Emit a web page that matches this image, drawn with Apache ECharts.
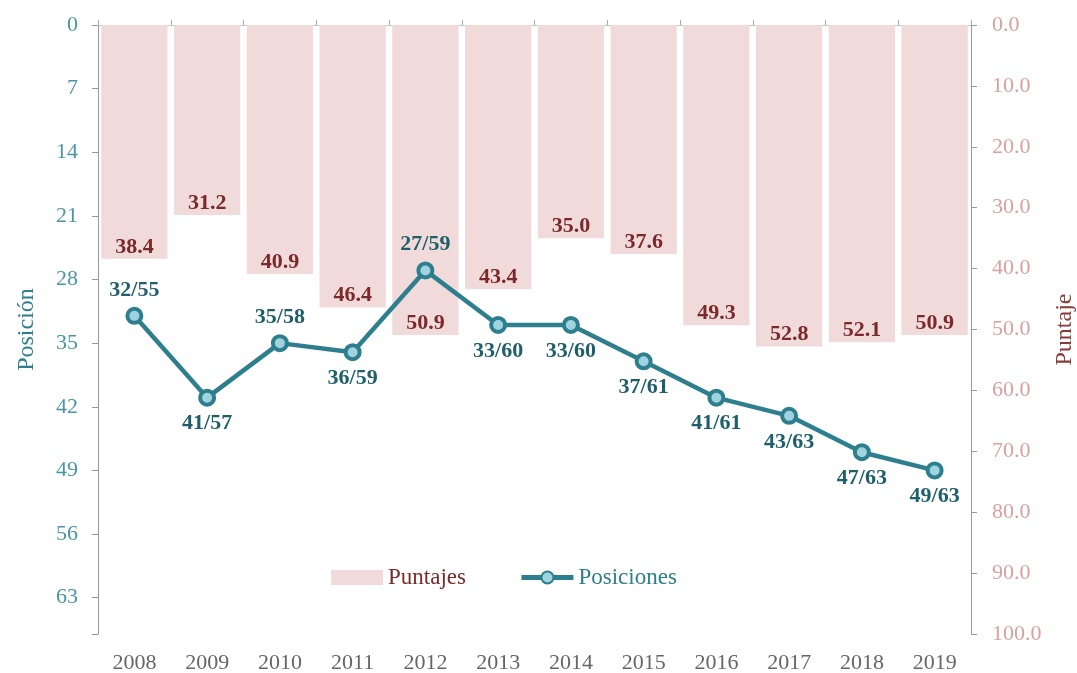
<!DOCTYPE html>
<html>
<head>
<meta charset="utf-8">
<script src="https://cdn.jsdelivr.net/npm/echarts@6/dist/echarts.min.js"></script>
<style>
  html, body { margin: 0; padding: 0; background: #fff; }
  #grafico { width: 1077px; height: 673px; }
</style>
</head>
<body>
<div id="grafico"></div>
<script>
// datos
var anios = ['2008', '2009', '2010', '2011', '2012', '2013', '2014', '2015', '2016', '2017', '2018', '2019'];
var puntajes = [38.4, 31.2, 40.9, 46.4, 50.9, 43.4, 35.0, 37.6, 49.3, 52.8, 52.1, 50.9];
var posiciones = [32, 41, 35, 36, 27, 33, 33, 37, 41, 43, 47, 49];
var totalPaises = [55, 57, 58, 59, 59, 60, 60, 61, 61, 63, 63, 63];
// donde va la etiqueta de cada punto
var posEtiqueta = ['top', 'bottom', 'top', 'bottom', 'top', 'bottom', 'bottom', 'bottom', 'bottom', 'bottom', 'bottom', 'bottom'];

var fuente = '"Liberation Serif", "DejaVu Serif", serif';
var teal = '#2E7F8E';

var myChart = echarts.init(document.getElementById('grafico'));

var datosLinea = posiciones.map(function (p, i) {
    return {
        value: p,
        label: { position: posEtiqueta[i] }
    };
});

var option = {
    animation: false,
    backgroundColor: '#fff',
    textStyle: { fontFamily: fuente },
    grid: { left: 98, right: 106, top: 25, bottom: 39, outerBoundsMode: 'none', containLabel: false },
    legend: {
        top: 561,
        left: 326,
        itemGap: 53,
        textStyle: { fontFamily: fuente, fontSize: 23 },
        data: [
            { name: 'Puntajes', icon: 'rect', textStyle: { color: '#7A2A2A' } },
            { name: 'Posiciones', lineStyle: { width: 5 }, textStyle: { color: teal } }
        ],
        itemWidth: 52,
        itemHeight: 15
    },
    xAxis: [
        {
            type: 'category',
            data: anios,
            position: 'bottom',
            axisLine: { show: false },
            axisTick: { show: false },
            axisLabel: { color: '#666', fontSize: 22, fontFamily: fuente, margin: 18 }
        },
        {
            type: 'category',
            data: anios,
            position: 'top',
            axisLine: { show: true, lineStyle: { color: '#C8C8C8', width: 1 } },
            axisTick: { show: true, length: 5, lineStyle: { color: '#AAA' } },
            axisLabel: { show: false }
        }
    ],
    yAxis: [
        {
            type: 'value',
            inverse: true,
            min: 0,
            max: 67,
            interval: 7,
            position: 'left',
            name: 'Posición',
            nameLocation: 'middle',
            nameGap: 59,
            nameTextStyle: { color: teal, fontSize: 24, fontFamily: fuente },
            axisLine: { show: true, lineStyle: { color: '#999' } },
            axisTick: { show: true, length: 6, lineStyle: { color: '#999' } },
            splitLine: { show: false },
            axisLabel: {
                color: '#4A96A6', fontSize: 22, fontFamily: fuente, margin: 20,
                formatter: function (v) { return v % 7 === 0 ? String(v) : ''; }
            }
        },
        {
            type: 'value',
            inverse: true,
            min: 0,
            max: 100,
            interval: 10,
            position: 'right',
            name: 'Puntaje',
            nameLocation: 'middle',
            nameGap: 80,
            nameTextStyle: { color: '#8B3A3A', fontSize: 24, fontFamily: fuente },
            axisLine: { show: true, lineStyle: { color: '#999' } },
            axisTick: { show: true, length: 6, lineStyle: { color: '#999' } },
            splitLine: { show: false },
            axisLabel: {
                color: '#D9A0A0', fontSize: 22, fontFamily: fuente, margin: 21,
                formatter: function (v) { return v.toFixed(1); }
            }
        }
    ],
    series: [
        {
            name: 'Puntajes',
            type: 'bar',
            xAxisIndex: 0,
            yAxisIndex: 1,
            data: puntajes,
            barCategoryGap: '9%',
            itemStyle: { color: '#F1DADA' },
            label: {
                show: true,
                position: 'insideBottom',
                distance: 1,
                color: '#7A2A2A',
                fontWeight: 'bold',
                fontSize: 22,
                fontFamily: fuente,
                formatter: function (p) { return p.value.toFixed(1); }
            }
        },
        {
            name: 'Posiciones',
            type: 'line',
            xAxisIndex: 0,
            yAxisIndex: 0,
            data: datosLinea,
            symbol: 'circle',
            symbolSize: 14,
            lineStyle: { color: teal, width: 4.5 },
            itemStyle: { color: '#9FD3E0', borderColor: teal, borderWidth: 4 },
            label: {
                show: true,
                distance: 6,
                color: '#1F5F6B',
                fontWeight: 'bold',
                fontSize: 22,
                fontFamily: fuente,
                formatter: function (p) { return posiciones[p.dataIndex] + '/' + totalPaises[p.dataIndex]; }
            },
            z: 5
        }
    ]
};

myChart.setOption(option);
</script>
</body>
</html>
